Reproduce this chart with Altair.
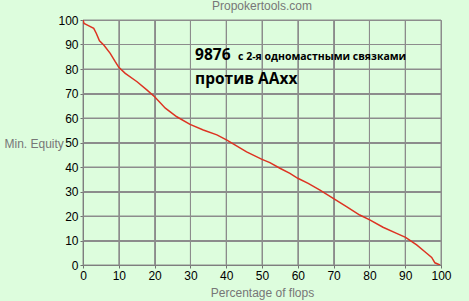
import altair as alt
import pandas as pd

flops_pct = [0, 0.3, 1.1, 3.0, 3.7, 4.6, 5.8, 7.6, 9.0, 10.0, 11.8, 15.1, 17.9, 20.0, 23.0, 26.2,
             29.9, 33.6, 37.4, 40.2, 45.7, 50.0, 52.2, 55.0, 57.8, 60.0, 62.9, 66.2, 69.9, 73.6,
             77.3, 80.1, 83.8, 87.6, 90.1, 93.2, 95.5, 97.4, 98.3, 99.7]
min_equity = [100, 98.6, 98.0, 96.6, 94.6, 91.5, 89.8, 86.4, 83.0, 80.7, 78.2, 74.8, 71.4, 68.7, 64.0, 60.5,
              57.4, 55.1, 53.1, 51.0, 46.2, 43.1, 41.8, 39.5, 37.4, 35.4, 33.3, 30.6, 27.2, 23.8,
              20.4, 18.4, 15.4, 12.9, 11.3, 8.2, 5.4, 3.1, 0.9, 0]
tick_values = [0, 10, 20, 30, 40, 50, 60, 70, 80, 90, 100]

ann_text = ["9876", "с 2-я одномастными связками", "против AAxx"]
ann_x = [31.3, 43.3, 31.3]
ann_y = [83.7, 83.7, 73.9]
ann_size = [15.5, 10.5, 15.5]

df = pd.DataFrame({"x": flops_pct, "y": min_equity})
ann = pd.DataFrame({"t": ann_text, "x": ann_x, "y": ann_y, "s": ann_size})
grid_df = pd.DataFrame({"v": tick_values})

GRID = "#8c8c8c"
xs = alt.Scale(domain=[0, 100], nice=False, zero=False, padding=0)
ys = alt.Scale(domain=[0, 100], nice=False, zero=False, padding=0)

x_axis = alt.Axis(
    title="Percentage of flops", values=tick_values, tickSize=3, grid=True, labelFlush=False,
    gridColor=GRID, domain=True, domainColor="#707070", ticks=True, tickColor="#707070",
    labelColor="#000000", labelFont="Liberation Sans", labelFontSize=12,
    titleColor="#777777", titleFontWeight="normal", titleFontSize=12, titleFont="Liberation Sans",
    titlePadding=6, labelPadding=2)
y_axis = alt.Axis(
    title="Min. Equity", values=tick_values, tickSize=3, grid=True, labelFlush=False,
    gridColor=GRID, domain=True, domainColor="#707070", ticks=True, tickColor="#707070",
    labelColor="#000000", labelFont="Liberation Sans", labelFontSize=12,
    titleColor="#777777", titleFontWeight="normal", titleFontSize=12, titleFont="Liberation Sans",
    titleAngle=0, titleAlign="left", titleBaseline="middle", titleX=-79, titleY=123,
    labelPadding=2)

vgrid = alt.Chart(grid_df).mark_rule(color=GRID, strokeWidth=1).encode(
    x=alt.X("v:Q", scale=xs, axis=x_axis),
)
hgrid = alt.Chart(grid_df).mark_rule(color=GRID, strokeWidth=1).encode(
    y=alt.Y("v:Q", scale=ys, axis=y_axis),
)

line = alt.Chart(df).mark_line(color="#dd3322", strokeWidth=1.5, clip=True).encode(
    x=alt.X("x:Q", scale=xs, axis=x_axis),
    y=alt.Y("y:Q", scale=ys, axis=y_axis),
)

text = alt.Chart(ann).mark_text(align="left", baseline="alphabetic", font="Open Sans",
                                 fontWeight="bold", color="#000000").encode(
    x=alt.X("x:Q", scale=xs, axis=x_axis),
    y=alt.Y("y:Q", scale=ys, axis=y_axis),
    text="t:N",
    size=alt.Size("s:Q", scale=None, legend=None),
)

chart = alt.layer(vgrid, hgrid, line, text).properties(
    width=358, height=245,
    title=alt.TitleParams("Propokertools.com", color="#777777", fontSize=12, fontWeight="normal",
                          font="Liberation Sans", anchor="middle", offset=1, frame="group"),
    background="#ddfddd",
    padding={"left": 83, "top": 20, "right": 28, "bottom": 36},
    autosize=alt.AutoSizeParams(type="none"),
).configure_view(stroke=None)

chart.save("out.html", embed_options={"renderer": "svg", "actions": False})
